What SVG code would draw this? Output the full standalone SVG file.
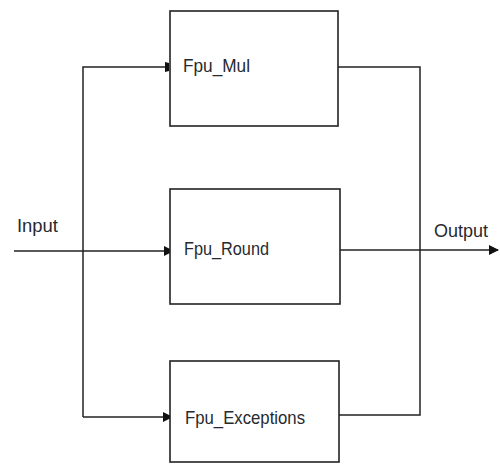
<svg xmlns="http://www.w3.org/2000/svg" width="500" height="464" viewBox="0 0 500 464">
<style>
.box{fill:#fff;stroke:#222;stroke-width:1.6}
.ln{fill:none;stroke:#222;stroke-width:1.5}
.t{font-family:"Liberation Sans",Arial,sans-serif;font-size:19px;fill:#262a2e}
</style>
<defs>
<marker id="ah" markerWidth="10" markerHeight="10" refX="9" refY="5" orient="auto" markerUnits="userSpaceOnUse">
<path d="M0,0 L10,5 L0,10 Z" fill="#111"/>
</marker>
<marker id="ahs" markerWidth="4" markerHeight="10" refX="4" refY="5" orient="auto" markerUnits="userSpaceOnUse">
<path d="M0,0 L4,1 L4,9 L0,10 Z" fill="#111"/>
</marker>
</defs>
<g id="connectors">
<path class="ln" d="M14,251 L173,251" marker-end="url(#ah)"/>
<path class="ln" d="M83,417 L83,67 L169,67" marker-end="url(#ahs)"/>
<path class="ln" d="M83,417 L172,417" marker-end="url(#ah)"/>
<path class="ln" d="M338,67 L420,67 L420,415 L339,415"/>
<path class="ln" d="M340,250 L498,250" marker-end="url(#ah)"/>
</g>
<g id="fpu_mul">
<rect class="box" x="170" y="11" width="168" height="115"/>
<text class="t" x="183" y="72" textLength="67" lengthAdjust="spacingAndGlyphs">Fpu_Mul</text>
</g>
<g id="fpu_round">
<rect class="box" x="170" y="189" width="170" height="115"/>
<text class="t" x="184" y="255" textLength="85" lengthAdjust="spacingAndGlyphs">Fpu_Round</text>
</g>
<g id="fpu_exceptions">
<rect class="box" x="170" y="361" width="169" height="101"/>
<text class="t" x="185" y="424" textLength="120" lengthAdjust="spacingAndGlyphs">Fpu_Exceptions</text>
</g>
<g id="labels">
<text class="t" x="17" y="232" textLength="41" lengthAdjust="spacingAndGlyphs">Input</text>
<text class="t" x="434" y="237" textLength="54" lengthAdjust="spacingAndGlyphs">Output</text>
</g>
</svg>
